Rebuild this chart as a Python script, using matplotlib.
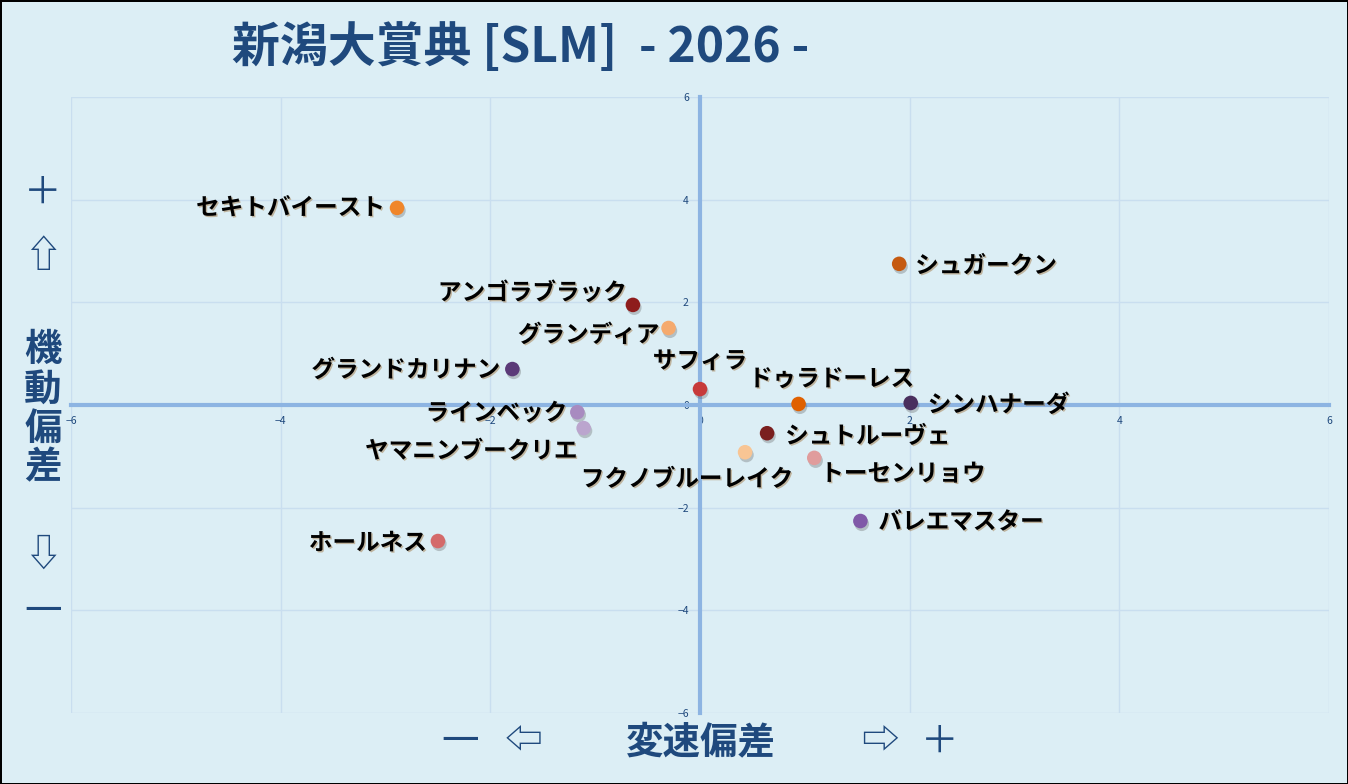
import matplotlib
matplotlib.use("Agg")
import matplotlib.pyplot as plt
import matplotlib.patheffects as pe

plt.rcParams['font.family'] = ['Noto Sans CJK JP', 'DejaVu Sans']

# horse names, speed deviation (x), maneuver deviation (y)
names = ['セキトバイースト', 'シュガークン', 'アンゴラブラック', 'グランディア',
         'グランドカリナン', 'サフィラ', 'ドゥラドーレス', 'シンハナーダ',
         'ラインベック', 'ヤマニンブークリエ', 'シュトルーヴェ', 'フクノブルーレイク',
         'トーセンリョウ', 'バレエマスター', 'ホールネス']
speed = [-2.89, 1.90, -0.64, -0.30, -1.79, 0.00, 0.94, 2.01,
         -1.17, -1.11, 0.64, 0.43, 1.09, 1.53, -2.50]
agility = [3.84, 2.75, 1.95, 1.50, 0.70, 0.31, 0.02, 0.04,
           -0.14, -0.45, -0.55, -0.92, -1.03, -2.26, -2.65]
colors = ['#F0862A', '#C55A11', '#8E1C1C', '#F5AA6E', '#5B3A78', '#C73A3A',
          '#E06000', '#4A2F5E', '#A88BC0', '#BBA5CE', '#7A1F1F', '#F8C594',
          '#E09C9C', '#8059A8', '#D46A6A']
ticks = [-6, -4, -2, 0, 2, 4, 6]

# label placement (offset in pixels, horizontal alignment)
offsets = [(-12, 0, 'right'), (16, -2, 'left'), (-6, 12, 'right'), (-9, -7, 'right'),
           (-12, -1, 'right'), (0, 28, 'center'), (33, 25, 'center'), (17, -2, 'left'),
           (-10, -1, 'right'), (-6, -23, 'right'), (18, -3, 'left'), (-58, -27, 'center'),
           (6, -16, 'left'), (18, -1, 'left'), (-11, -2, 'right')]

bg = '#DCEEF5'
navy = '#1F497D'
axis_col = '#8DB4E2'

fig = plt.figure(figsize=(13.48, 7.84), dpi=100, facecolor=bg)
fig.patch.set_edgecolor('black')
fig.patch.set_linewidth(2)
ax = fig.add_axes([71/1348, 1-713/784, 1258/1348, 616/784])
ax.set_facecolor(bg)
ax.set_xlim(-6, 6)
ax.set_ylim(-6, 6)
ax.set_xticks(ticks)
ax.set_yticks(ticks)
ax.grid(True, color='#C9DEEF', linewidth=1)
ax.set_axisbelow(True)
for s in ['top', 'right']:
    ax.spines[s].set_visible(False)
for s in ['left', 'bottom']:
    ax.spines[s].set_position('zero')
    ax.spines[s].set_color(axis_col)
    ax.spines[s].set_linewidth(3)
    ax.spines[s].set_zorder(1.5)
ax.tick_params(length=0, labelsize=7.5, labelcolor=navy, pad=8)

sc = ax.scatter(speed, agility, s=110, c=colors, zorder=3, linewidths=0)
sc.set_path_effects([pe.SimplePatchShadow(offset=(1, -2), shadow_rgbFace='#555555', alpha=0.3),
                     pe.Normal()])

for n, x, y, (dx, dy, ha) in zip(names, speed, agility, offsets):
    t = ax.annotate(n, (x, y), xytext=(dx, dy), textcoords='offset pixels',
                    ha=ha, va='center', fontsize=17, fontweight='bold', color='black',
                    zorder=4)
    t.set_path_effects([pe.SimplePatchShadow(offset=(1, -1), shadow_rgbFace='#8A4A00', alpha=0.35),
                        pe.Normal()])

fig.text(232/1348, 1-47/784, '新潟大賞典 [SLM]  - 2026 -', fontsize=34.5, fontweight='bold',
         color=navy, ha='left', va='center')

# vertical axis caption
side = [('＋', 193, 'normal'), ('⇧', 257, 'normal'), ('機', 350, 'bold'), ('動', 389, 'bold'),
        ('偏', 428, 'bold'), ('差', 467, 'bold'), ('⇩', 555, 'normal'), ('一', 612, 'normal')]
for ch, yy, w in side:
    fig.text(43/1348, 1-yy/784, ch, fontsize=27, fontweight=w, color=navy,
             ha='center', va='center')

# horizontal axis caption
bottom = [('一', 460, 'normal'), ('⇦', 523, 'normal'), ('変速偏差', 701, 'bold'),
          ('⇨', 880, 'normal'), ('＋', 940, 'normal')]
for ch, xx, w in bottom:
    fig.text(xx/1348, 1-742/784, ch, fontsize=27, fontweight=w, color=navy,
             ha='center', va='center')

fig.savefig('out.png', dpi=100, facecolor=bg, edgecolor='black')
